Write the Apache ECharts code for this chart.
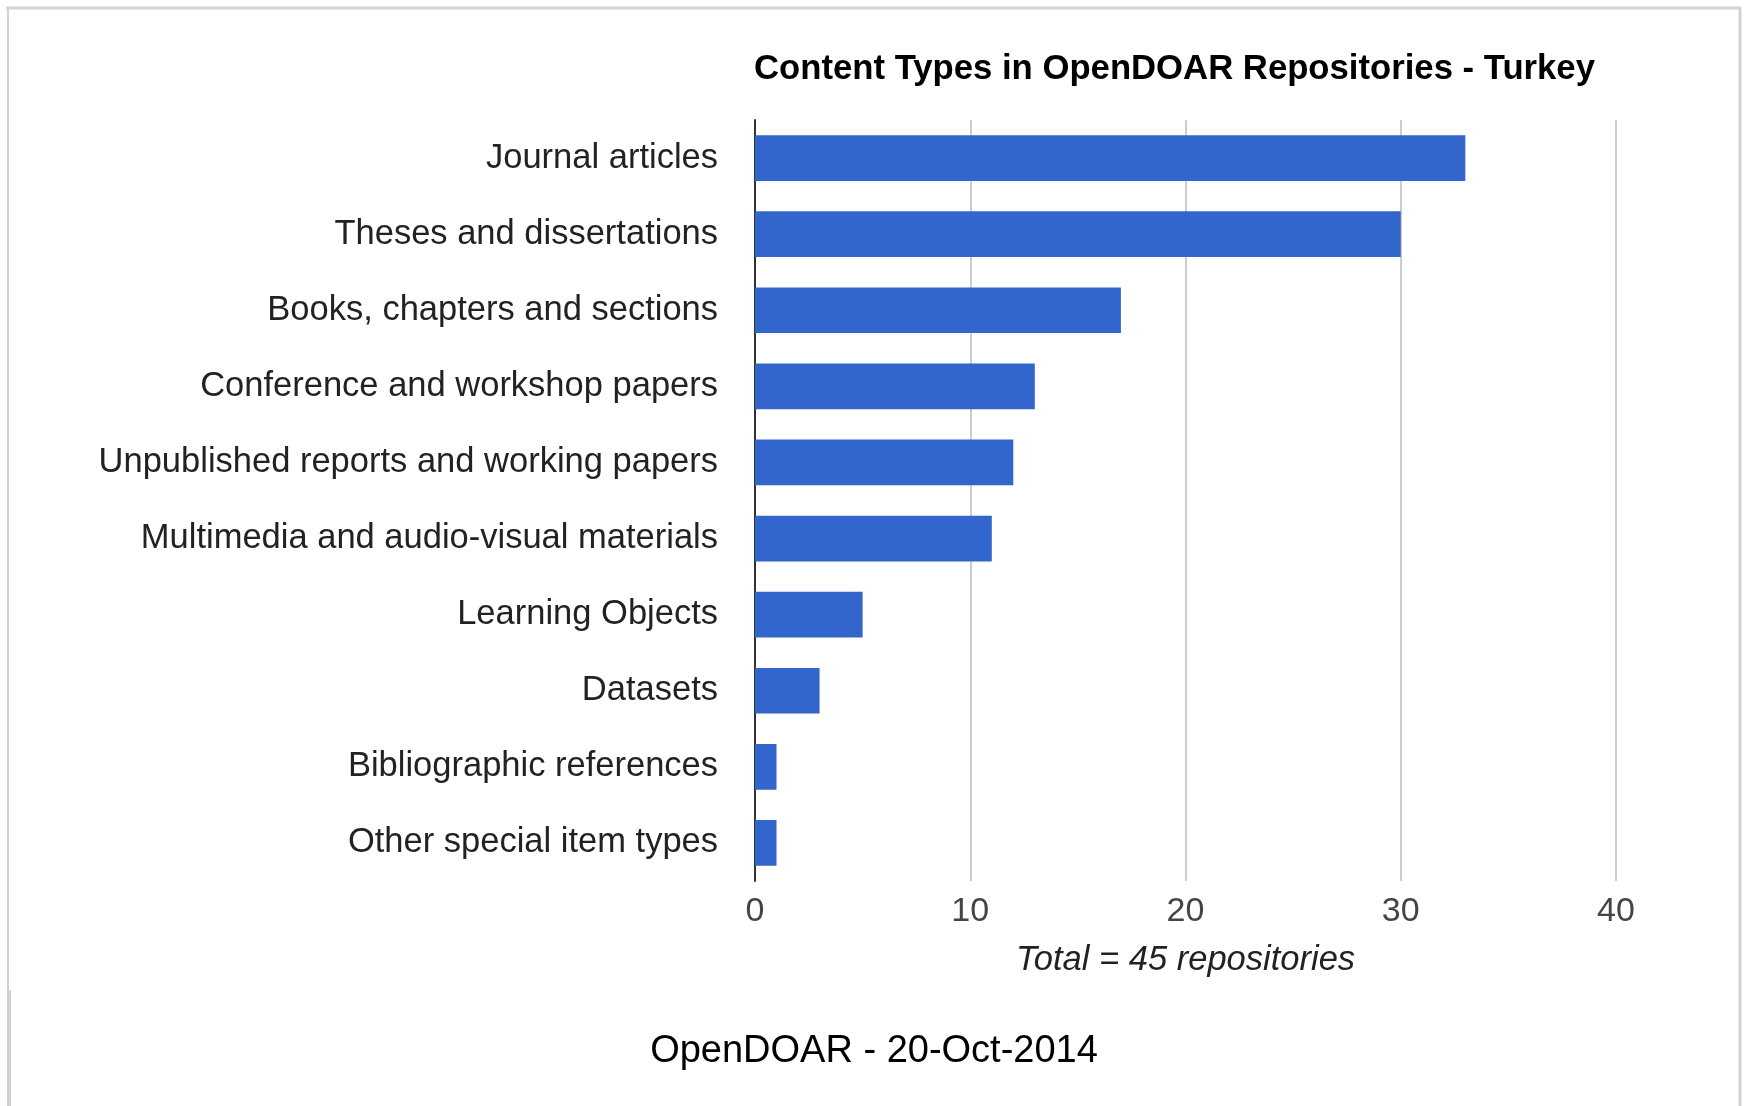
<!DOCTYPE html>
<html>
<head>
<meta charset="utf-8">
<script src="https://cdn.jsdelivr.net/npm/echarts@6/dist/echarts.min.js"></script>
<style>
html,body{margin:0;padding:0;background:#fff;}
#chart{width:1744px;height:1106px;}
</style>
</head>
<body>
<div id="chart"></div>
<script>
const categories = [
  'Journal articles',
  'Theses and dissertations',
  'Books, chapters and sections',
  'Conference and workshop papers',
  'Unpublished reports and working papers',
  'Multimedia and audio-visual materials',
  'Learning Objects',
  'Datasets',
  'Bibliographic references',
  'Other special item types'
];
const counts = [33, 30, 17, 13, 12, 11, 5, 3, 1, 1];
const xTicks = [0, 10, 20, 30, 40];
const titleText = 'Content Types in OpenDOAR Repositories - Turkey';
const axisNameText = 'Total = 45 repositories';
const footerText = 'OpenDOAR - 20-Oct-2014';

const FONT = 'Arial, "Liberation Sans", sans-serif';
const chart = echarts.init(document.getElementById('chart'), null, {renderer: 'canvas'});
chart.setOption({
  backgroundColor: '#ffffff',
  animation: false,
  title: {
    text: titleText,
    left: 754,
    top: 52,
    padding: 0,
    textStyle: {fontFamily: FONT, fontSize: 34.7, fontWeight: 'bold', color: '#000000'}
  },
  grid: {left: 755, right: 128, top: 120, bottom: 225, containLabel: false},
  xAxis: {
    type: 'value',
    min: xTicks[0],
    max: xTicks[xTicks.length - 1],
    interval: xTicks[1] - xTicks[0],
    axisLine: {show: false},
    axisTick: {show: false},
    axisLabel: {fontFamily: FONT, fontSize: 34, color: '#444444', margin: 14},
    splitLine: {show: true, lineStyle: {color: '#cccccc', width: 2}},
    name: axisNameText,
    nameLocation: 'middle',
    nameGap: 62,
    nameTextStyle: {fontFamily: FONT, fontSize: 34.5, fontStyle: 'italic', color: '#222222'}
  },
  yAxis: {
    type: 'category',
    data: categories,
    inverse: true,
    axisLine: {show: true, lineStyle: {color: '#333333', width: 2}},
    axisTick: {show: false},
    axisLabel: {fontFamily: FONT, fontSize: 34.5, color: '#222222', margin: 37, padding: [9, 0, 0, 0]}
  },
  series: [{
    type: 'bar',
    data: counts,
    barCategoryGap: '40%',
    itemStyle: {color: '#3366cc'},
    z: 3
  }],
  graphic: [
    {type: 'line', shape: {x1: 6, y1: 8, x2: 1741, y2: 8}, style: {stroke: '#d2d2d2', lineWidth: 3}},
    {type: 'line', shape: {x1: 8, y1: 8, x2: 8, y2: 990}, style: {stroke: '#d2d2d2', lineWidth: 2}},
    {type: 'line', shape: {x1: 9, y1: 990, x2: 9, y2: 1106}, style: {stroke: '#d2d2d2', lineWidth: 4}},
    {type: 'line', shape: {x1: 1740, y1: 8, x2: 1740, y2: 1106}, style: {stroke: '#d2d2d2', lineWidth: 3}},
    {
      type: 'text', x: 874, y: 1052,
      style: {
        text: footerText, align: 'center', verticalAlign: 'middle',
        fontFamily: FONT, fontSize: 38, fill: '#000000'
      }
    }
  ]
});
</script>
</body>
</html>
